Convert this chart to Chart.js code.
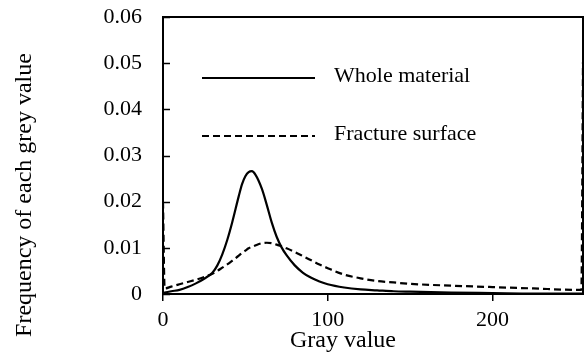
<!DOCTYPE html>
<html>
<head>
<meta charset="utf-8">
<script src="https://cdn.jsdelivr.net/npm/chart.js@4.4.0/dist/chart.umd.min.js"></script>
<style>
  html, body { margin: 0; padding: 0; background: #fff; }
  #histo { display: block; }
</style>
</head>
<body>
<canvas id="histo" width="588" height="363"></canvas>
<script>
// grey level histogram
var grayValues = [0, 1, 5, 10, 15, 20, 25, 30, 33, 36, 39, 42, 46, 48, 50, 52, 54, 56, 60, 63, 66, 69, 72, 75, 80, 85, 90, 95, 100, 110, 120, 130, 140, 150, 175, 200, 225, 250, 254, 255];
var wholeMaterial = [0.0002, 0.0003, 0.0006, 0.0009, 0.0015, 0.0023, 0.0033, 0.0046, 0.0062, 0.0086, 0.0117, 0.0155, 0.0212, 0.0238, 0.0255, 0.0264, 0.0266, 0.0259, 0.0228, 0.0193, 0.0155, 0.0124, 0.0101, 0.0084, 0.0062, 0.0046, 0.0035, 0.0027, 0.0021, 0.0014, 0.0010, 0.0008, 0.0006, 0.0005, 0.0003, 0.0002, 0.0001, 0.0001, 0.0001, 0.0001];
var fractureSurface = [0.0200, 0.0012, 0.0016, 0.0021, 0.0026, 0.0031, 0.0037, 0.0044, 0.0050, 0.0057, 0.0064, 0.0072, 0.0083, 0.0089, 0.0094, 0.0099, 0.0102, 0.0105, 0.0110, 0.0111, 0.0110, 0.0107, 0.0103, 0.0099, 0.0091, 0.0082, 0.0073, 0.0064, 0.0056, 0.0042, 0.0034, 0.0028, 0.0025, 0.0022, 0.0018, 0.0015, 0.0012, 0.0009, 0.0009, 0.0503];
var seriesNames = ["Whole material", "Fracture surface"];
var xTitle = "Gray value";
var yTitle = "Frequency of each grey value";

var serif = "'Liberation Serif', 'Times New Roman', serif";

function toPoints(ys) {
    return grayValues.map(function (g, i) { return {x: g, y: ys[i]}; });
}

// box, inward y ticks, titles and the legend inside the plot
var frame = {
    id: 'frame',
    afterDatasetsDraw: function (chart) {
        var ctx = chart.ctx, a = chart.chartArea, ys = chart.scales.y;
        ctx.save();
        ctx.strokeStyle = '#000';
        ctx.lineWidth = 2;
        ctx.strokeRect(a.left, a.top, a.right - a.left, a.bottom - a.top);

        ctx.lineWidth = 1.5;
        ys.ticks.forEach(function (t) {
            var py = Math.round(ys.getPixelForValue(t.value)) + 0.5;
            ctx.beginPath();
            ctx.moveTo(a.left, py);
            ctx.lineTo(a.left + 7, py);
            ctx.stroke();
        });

        // legend
        ctx.lineWidth = 2.2;
        ctx.beginPath();
        ctx.moveTo(202, 78);
        ctx.lineTo(315, 78);
        ctx.stroke();
        ctx.setLineDash([7, 4]);
        ctx.beginPath();
        ctx.moveTo(202, 136);
        ctx.lineTo(315, 136);
        ctx.stroke();
        ctx.setLineDash([]);

        ctx.fillStyle = '#000';
        ctx.font = '22px ' + serif;
        ctx.textAlign = 'left';
        ctx.textBaseline = 'alphabetic';
        ctx.fillText(seriesNames[0], 334, 82);
        ctx.fillText(seriesNames[1], 334, 140);

        ctx.font = '24px ' + serif;
        ctx.textAlign = 'center';
        ctx.fillText(xTitle, 343, 347);

        ctx.translate(25, 195);
        ctx.rotate(-Math.PI / 2);
        ctx.textBaseline = 'middle';
        ctx.fillText(yTitle, 0, 0);
        ctx.restore();
    }
};

var ctx = document.getElementById('histo').getContext('2d');
var histoChart = new Chart(ctx, {
    type: 'line',
    data: {
        datasets: [{
            label: seriesNames[0],
            data: toPoints(wholeMaterial),
            borderColor: '#000',
            borderWidth: 2.2,
            pointRadius: 0,
            cubicInterpolationMode: 'monotone'
        }, {
            label: seriesNames[1],
            data: toPoints(fractureSurface),
            borderColor: '#000',
            borderWidth: 2.2,
            borderDash: [7, 4],
            pointRadius: 0,
            cubicInterpolationMode: 'monotone'
        }]
    },
    options: {
        responsive: false,
        animation: false,
        layout: {padding: {top: 17, right: 5, left: 0, bottom: 0}},
        plugins: {
            legend: {display: false},
            tooltip: {enabled: false}
        },
        scales: {
            x: {
                type: 'linear',
                min: 0,
                max: 255,
                afterFit: function (s) { s.height = 69; },
                border: {display: false},
                grid: {
                    drawOnChartArea: false,
                    drawTicks: true,
                    tickLength: 7,
                    tickColor: '#000',
                    lineWidth: 1.5
                },
                ticks: {
                    stepSize: 100,
                    includeBounds: false,
                    maxRotation: 0,
                    padding: 6,
                    color: '#000',
                    font: {family: serif, size: 22}
                }
            },
            y: {
                min: 0,
                max: 0.06,
                afterFit: function (s) { s.width = 163; },
                border: {display: false},
                // grid hidden; tickLength only spaces the labels off the axis
                grid: {display: false, drawTicks: true, tickLength: 21},
                ticks: {
                    stepSize: 0.01,
                    padding: 0,
                    color: '#000',
                    font: {family: serif, size: 22},
                    callback: function (v) { return v === 0 ? '0' : v.toFixed(2); }
                }
            }
        }
    },
    plugins: [frame]
});
</script>
</body>
</html>
